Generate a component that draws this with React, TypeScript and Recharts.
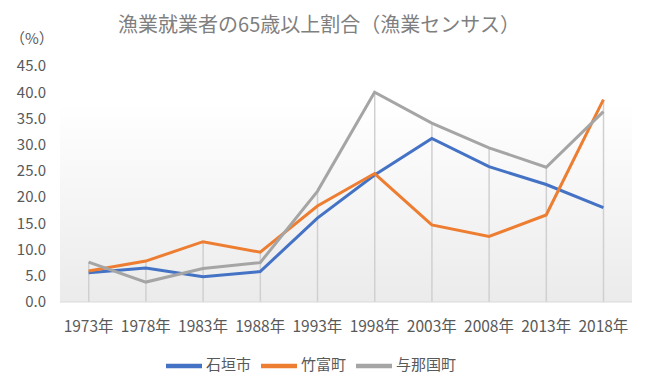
import React from 'react';
import { ComposedChart, Line, Bar, XAxis, YAxis, Legend, ReferenceArea } from 'recharts';

const years = ['1973年', '1978年', '1983年', '1988年', '1993年', '1998年', '2003年', '2008年', '2013年', '2018年'];
const ishigaki = [5.6, 6.5, 4.8, 5.8, 16.0, 24.2, 31.2, 25.8, 22.4, 18.0];
const taketomi = [5.9, 7.8, 11.5, 9.5, 18.3, 24.5, 14.7, 12.5, 16.6, 38.6];
const yonaguni = [7.6, 3.8, 6.4, 7.5, 21.1, 40.0, 34.1, 29.4, 25.7, 36.3];
const yTicks = [0, 5, 10, 15, 20, 25, 30, 35, 40, 45];
const order = ['ishigaki', 'taketomi', 'yonaguni'];

const data = years.map((name, i) => ({
  name,
  ishigaki: ishigaki[i],
  taketomi: taketomi[i],
  yonaguni: yonaguni[i],
  top: Math.max(ishigaki[i], taketomi[i], yonaguni[i])
}));

const font = '"Noto Sans CJK JP", "Noto Sans", sans-serif';

// Excel-style drop line: from the highest point down to the axis
const DropLine = (p: any) => {
  const cx = p.x + p.width / 2;
  return <line x1={cx} x2={cx} y1={p.y} y2={p.y + p.height} stroke="#d0d0d0" strokeWidth={1.5} />;
};

export default function App() {
  return <div style={{ position: 'absolute', left: 0, top: 0, width: 650, height: 385, background: '#fff', fontFamily: font }}>
      <div style={{ position: 'absolute', left: 0, width: 638, top: 9, textAlign: 'center', fontSize: 20, color: '#7f7f7f' }}>
        漁業就業者の65歳以上割合（漁業センサス）
      </div>
      <div style={{ position: 'absolute', left: 10, top: 27, fontSize: 15, color: '#595959' }}>（%）</div>
      <ComposedChart width={650} height={385} data={data} margin={{
      top: 66,
      right: 18,
      left: 0,
      bottom: 1
    }}>
        <defs>
          <linearGradient id="bg" x1="0" y1="0" x2="0" y2="1">
            <stop offset="0%" stopColor="#ffffff" />
            <stop offset="100%" stopColor="#ebebeb" />
          </linearGradient>
        </defs>
        <ReferenceArea y1={0} y2={37.8} fill="url(#bg)" fillOpacity={1} stroke="none" />
        <XAxis dataKey="name" interval={0} tickLine={false} axisLine={{ stroke: '#d9d9d9' }} tick={{ fill: '#595959', fontSize: 15.5, fontFamily: font }} tickMargin={13} height={46} />
        <YAxis domain={[0, 45]} ticks={yTicks} width={60} tickLine={false} axisLine={false} tickFormatter={(v: number) => v.toFixed(1)} tick={{ fill: '#595959', fontSize: 15, fontFamily: font }} tickMargin={8} />
        <Bar dataKey="top" shape={DropLine} legendType="none" isAnimationActive={false} />
        <Line dataKey="ishigaki" name="石垣市" stroke="#4472c4" strokeWidth={3} dot={false} activeDot={false} isAnimationActive={false} />
        <Line dataKey="taketomi" name="竹富町" stroke="#ed7d31" strokeWidth={3} dot={false} activeDot={false} isAnimationActive={false} />
        <Line dataKey="yonaguni" name="与那国町" stroke="#a5a5a5" strokeWidth={3} dot={false} activeDot={false} isAnimationActive={false} />
        <Legend verticalAlign="bottom" iconType="plainline" iconSize={36} itemSorter={(item: any) => order.indexOf(item.dataKey)} wrapperStyle={{ fontSize: 15, fontFamily: font }} formatter={(v: string) => <span style={{ color: '#595959' }}>{v}</span>} />
      </ComposedChart>
    </div>;
}
